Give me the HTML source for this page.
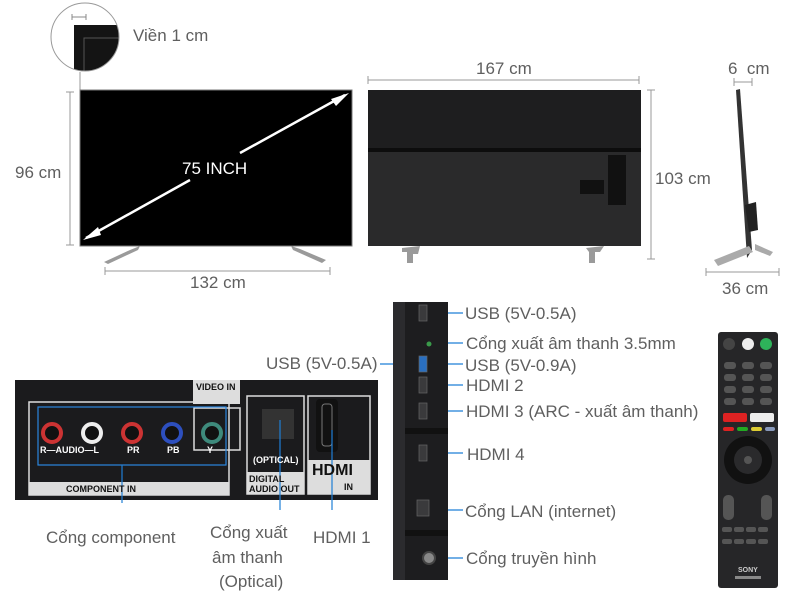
<!DOCTYPE html>
<html><head><meta charset="utf-8"><style>
body{margin:0;width:800px;height:600px;background:#fff;position:relative;overflow:hidden;font-family:"Liberation Sans","Noto Sans CJK SC",sans-serif;}
.t{position:absolute;color:#5f5f5f;font-size:17px;white-space:nowrap;line-height:1}
.a{position:absolute}
.w{position:absolute;color:#fff;font-weight:bold;font-size:9px;font-family:"Liberation Sans",sans-serif;white-space:nowrap}
</style></head><body>
<svg class="a" style="left:0;top:0" width="800" height="600">
<defs><clipPath id="c"><circle cx="85" cy="37" r="34"/></clipPath></defs>
<g clip-path="url(#c)"><rect x="74" y="25" width="50" height="50" fill="#141414"/><path d="M84 72 V38 H124" stroke="#555" fill="none"/></g>
<circle cx="85" cy="37" r="34" fill="none" stroke="#999"/>
<path d="M72 17 H86 M72 14 V20 M86 14 V20" stroke="#888"/>
<line x1="80" y1="72" x2="80" y2="91" stroke="#999"/>
<rect x="80" y="90" width="272" height="156" fill="#000" stroke="#777"/>
<path d="M104 262 L130 250 L140 246 L138 250 L108 264Z" fill="#9a9a9a"/>
<path d="M326 260 L300 249 L291 246 L293 250 L322 263Z" fill="#9a9a9a"/>
<line x1="86" y1="238" x2="190" y2="180" stroke="#fff" stroke-width="2.5"/>
<line x1="240" y1="153" x2="345" y2="95" stroke="#fff" stroke-width="2.5"/>
<path d="M83 240 L98 227 L101 235Z M349 93 L331 99 L336 106Z" fill="#fff"/>
<path d="M70 92 V245 M66 92 H74 M66 245 H74" stroke="#999"/>
<path d="M105 271 H330 M105 267 V275 M330 267 V275" stroke="#999"/>
<rect x="368" y="90" width="273" height="156" fill="#2a2a2b"/>
<rect x="368" y="90" width="273" height="58" fill="#1e1e1f"/>
<rect x="368" y="148" width="273" height="4" fill="#0d0d0d"/>
<rect x="608" y="155" width="18" height="50" fill="#111"/><rect x="580" y="180" width="24" height="14" fill="#111"/>
<path d="M402 248 L420 246 L418 254 L413 254 L413 263 L407 263 L407 252 L402 252Z M586 248 L604 246 L600 252 L595 252 L595 263 L589 263 L589 252Z" fill="#9a9a9a"/>
<path d="M368 80 H639 M368 76 V84 M639 76 V84" stroke="#999"/>
<path d="M651 90 V259 M647 90 H655 M647 259 H655" stroke="#999"/>
<path d="M736 90 L740 89 L752 250 L747 258Z" fill="#333"/>
<path d="M745 205 L756 202 L758 230 L749 232Z" fill="#222"/>
<path d="M714 260 L749 246 L753 252 L718 266Z M755 244 L773 252 L770 256 L755 250Z" fill="#aaa"/>
<path d="M734 82 H752 M734 78 V86 M752 78 V86" stroke="#999"/>
<path d="M706 272 H779 M706 268 V276 M779 268 V276" stroke="#999"/>
<rect x="15" y="380" width="363" height="120" fill="#1b1b1d"/>
<rect x="29" y="402" width="200" height="93" fill="none" stroke="#ddd" stroke-width="1.5"/>
<rect x="29" y="482" width="200" height="13" fill="#ddd"/>
<rect x="193" y="380" width="47" height="24" fill="#ddd"/>
<rect x="194" y="408" width="46" height="42" fill="none" stroke="#ddd" stroke-width="1.5"/>
<rect x="247" y="396" width="57" height="98" fill="none" stroke="#ddd" stroke-width="1.5"/>
<rect x="247" y="472" width="57" height="22" fill="#ddd"/>
<rect x="308" y="396" width="62" height="98" fill="none" stroke="#ddd" stroke-width="1.5"/>
<rect x="308" y="460" width="62" height="34" fill="#ddd"/>
<rect x="262" y="409" width="32" height="30" fill="#333"/>
<rect x="316" y="399" width="22" height="53" rx="4" fill="#111"/>
<rect x="322" y="404" width="10" height="42" rx="3" fill="none" stroke="#777"/>
<g stroke-width="4" fill="#111">
<circle cx="52" cy="433" r="9" stroke="#c33"/><circle cx="92" cy="433" r="9" stroke="#eee"/><circle cx="132" cy="433" r="9" stroke="#c33"/><circle cx="172" cy="433" r="9" stroke="#2d4fbe"/><circle cx="212" cy="433" r="9" stroke="#3e8a7c"/>
</g>
<rect x="38" y="407" width="188" height="58" fill="none" stroke="#2a86de" stroke-width="1.2"/>
<g stroke="#1f7fd6" stroke-width="1.2">
<line x1="122" y1="465" x2="122" y2="503"/><line x1="280" y1="420" x2="280" y2="510"/><line x1="332" y1="430" x2="332" y2="510"/>
<line x1="422" y1="313" x2="463" y2="313"/><line x1="430" y1="343" x2="463" y2="343"/><line x1="420" y1="364" x2="463" y2="364"/><line x1="380" y1="364" x2="420" y2="364"/>
<line x1="420" y1="385" x2="463" y2="385"/><line x1="420" y1="411" x2="463" y2="411"/><line x1="420" y1="453" x2="463" y2="453"/><line x1="420" y1="510" x2="463" y2="510"/><line x1="430" y1="558" x2="463" y2="558"/>
</g>
<rect x="393" y="302" width="55" height="278" fill="#1d1d1f"/>
<rect x="393" y="302" width="12" height="278" fill="#2b2b2e"/>
<g fill="#3a3a3c" stroke="#666" stroke-width="0.7">
<rect x="419" y="305" width="8" height="16"/><rect x="419" y="356" width="8" height="16" fill="#2a6fc0"/><rect x="419" y="377" width="8" height="16"/><rect x="419" y="403" width="8" height="16"/><rect x="419" y="445" width="8" height="16"/><rect x="417" y="500" width="12" height="16"/>
</g>
<circle cx="429" cy="344" r="2.5" fill="#3a9a4a"/>
<rect x="405" y="428" width="43" height="6" fill="#111"/><rect x="405" y="530" width="43" height="6" fill="#111"/>
<circle cx="429" cy="558" r="6" fill="#888" stroke="#444" stroke-width="2"/>
<rect x="718" y="332" width="60" height="256" rx="3" fill="#262628"/>
<circle cx="729" cy="344" r="6" fill="#444"/><circle cx="748" cy="344" r="6" fill="#eee"/><circle cx="766" cy="344" r="6" fill="#2eb35a"/>
<g fill="#555">
<rect x="724" y="362" width="12" height="7" rx="3"/><rect x="742" y="362" width="12" height="7" rx="3"/><rect x="760" y="362" width="12" height="7" rx="3"/>
<rect x="724" y="374" width="12" height="7" rx="3"/><rect x="742" y="374" width="12" height="7" rx="3"/><rect x="760" y="374" width="12" height="7" rx="3"/>
<rect x="724" y="386" width="12" height="7" rx="3"/><rect x="742" y="386" width="12" height="7" rx="3"/><rect x="760" y="386" width="12" height="7" rx="3"/>
<rect x="724" y="398" width="12" height="7" rx="3"/><rect x="742" y="398" width="12" height="7" rx="3"/><rect x="760" y="398" width="12" height="7" rx="3"/>
</g>
<rect x="723" y="413" width="24" height="9" rx="2" fill="#d22"/><rect x="750" y="413" width="24" height="9" rx="2" fill="#eee"/>
<rect x="723" y="427" width="11" height="4" rx="2" fill="#d22"/><rect x="737" y="427" width="11" height="4" rx="2" fill="#2a2"/><rect x="751" y="427" width="11" height="4" rx="2" fill="#dc3"/><rect x="765" y="427" width="10" height="4" rx="2" fill="#89b"/>
<circle cx="748" cy="460" r="24" fill="#111"/><circle cx="748" cy="460" r="14" fill="#2a2a2c"/><circle cx="748" cy="460" r="4" fill="#555"/>
<rect x="723" y="495" width="11" height="25" rx="5" fill="#555"/><rect x="761" y="495" width="11" height="25" rx="5" fill="#555"/>
<g fill="#555"><rect x="722" y="527" width="10" height="5" rx="2"/><rect x="734" y="527" width="10" height="5" rx="2"/><rect x="746" y="527" width="10" height="5" rx="2"/><rect x="758" y="527" width="10" height="5" rx="2"/>
<rect x="722" y="539" width="10" height="5" rx="2"/><rect x="734" y="539" width="10" height="5" rx="2"/><rect x="746" y="539" width="10" height="5" rx="2"/><rect x="758" y="539" width="10" height="5" rx="2"/>
<rect x="735" y="576" width="26" height="3" fill="#888"/></g>
</svg>
<div class="t" style="left:133px;top:27px">Viền 1 cm</div>
<div class="t" style="left:182px;top:160px;color:#fff">75 INCH</div>
<div class="t" style="left:15px;top:164px">96 cm</div>
<div class="t" style="left:190px;top:274px">132 cm</div>
<div class="t" style="left:476px;top:60px">167 cm</div>
<div class="t" style="left:655px;top:170px">103 cm</div>
<div class="t" style="left:728px;top:60px">6&nbsp; cm</div>
<div class="t" style="left:722px;top:280px">36 cm</div>
<div class="t" style="left:46px;top:529px">Cổng component</div>
<div class="t" style="left:210px;top:524px">Cổng xuất</div>
<div class="t" style="left:212px;top:549px">âm thanh</div>
<div class="t" style="left:219px;top:573px">(Optical)</div>
<div class="t" style="left:313px;top:529px">HDMI 1</div>
<div class="t" style="left:465px;top:305px">USB (5V-0.5A)</div>
<div class="t" style="left:466px;top:335px">Cổng xuất âm thanh 3.5mm</div>
<div class="t" style="left:266px;top:355px">USB (5V-0.5A)</div>
<div class="t" style="left:465px;top:357px">USB (5V-0.9A)</div>
<div class="t" style="left:466px;top:377px">HDMI 2</div>
<div class="t" style="left:466px;top:403px">HDMI 3 (ARC - xuất âm thanh)</div>
<div class="t" style="left:467px;top:446px">HDMI 4</div>
<div class="t" style="left:465px;top:503px">Cổng LAN (internet)</div>
<div class="t" style="left:466px;top:550px">Cổng truyền hình</div>
<div class="w" style="left:196px;top:382px;color:#111">VIDEO IN</div>
<div class="w" style="left:40px;top:445px">R—AUDIO—L</div>
<div class="w" style="left:127px;top:445px">PR</div><div class="w" style="left:167px;top:445px">PB</div><div class="w" style="left:207px;top:445px">Y</div>
<div class="w" style="left:66px;top:484px;color:#111">COMPONENT IN</div>
<div class="w" style="left:253px;top:455px">(OPTICAL)</div>
<div class="w" style="left:249px;top:474px;color:#111;line-height:10px">DIGITAL<br>AUDIO OUT</div>
<div class="w" style="left:312px;top:462px;color:#111;font-size:16px">HDMI</div>
<div class="w" style="left:344px;top:482px;color:#111">IN</div>
<div class="w" style="left:738px;top:567px;color:#ccc;font-size:7px">SONY</div>
</body></html>
